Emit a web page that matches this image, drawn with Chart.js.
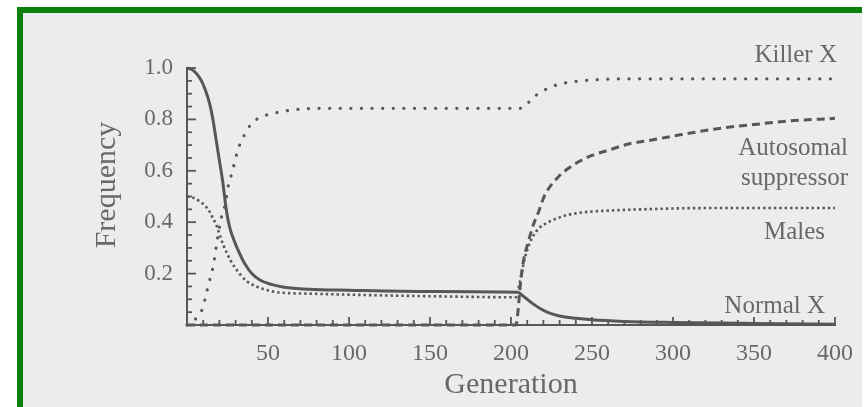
<!DOCTYPE html>
<html><head><meta charset="utf-8">
<script src="https://cdn.jsdelivr.net/npm/chart.js@4/dist/chart.umd.min.js"></script>
<style>html,body{margin:0;padding:0;background:#fff;}canvas{display:block;}</style>
</head><body>
<canvas id="c" width="867" height="407"></canvas>
<script>
// ---- data ----
const normalGen  = [0, 4, 8, 11, 14, 16, 18, 20, 22, 23, 24, 25, 26, 27, 29, 32, 36, 40, 45, 52, 60, 75, 100, 150, 204, 208, 213, 218, 223, 230, 240, 250, 270, 300, 350, 400];
const normalFreq = [1.0, 0.99, 0.96, 0.92, 0.86, 0.80, 0.72, 0.64, 0.56, 0.51, 0.46, 0.42, 0.39, 0.365, 0.33, 0.285, 0.235, 0.20, 0.175, 0.158, 0.147, 0.139, 0.135, 0.13, 0.127, 0.11, 0.085, 0.064, 0.048, 0.035, 0.026, 0.02, 0.014, 0.01, 0.006, 0.003];

const malesGen  = [0, 4, 8, 11, 14, 16, 18, 20, 22.5, 25, 27, 30, 33, 37, 41, 47, 53, 62, 75, 100, 150, 203, 204.5, 206.5, 208.5, 211, 214, 217, 223, 233, 244, 260, 280, 320, 360, 400];
const malesFreq = [0.50, 0.495, 0.48, 0.465, 0.44, 0.415, 0.39, 0.355, 0.31, 0.275, 0.25, 0.22, 0.195, 0.17, 0.155, 0.14, 0.13, 0.124, 0.122, 0.118, 0.112, 0.108, 0.14, 0.20, 0.26, 0.31, 0.35, 0.375, 0.40, 0.425, 0.438, 0.445, 0.45, 0.455, 0.455, 0.455];

const killerGen  = [0, 3, 5.6, 8, 9.7, 11.5, 13.2, 16.3, 18.4, 20.9, 23.6, 25.6, 27.7, 30.8, 32.9, 36, 40, 46, 53.6, 67, 80, 120, 160, 205, 208.6, 212.8, 219, 225, 232, 240, 254, 273, 320, 400];
const killerFreq = [0, 0.01, 0.026, 0.045, 0.066, 0.11, 0.155, 0.233, 0.32, 0.41, 0.47, 0.545, 0.59, 0.668, 0.707, 0.746, 0.785, 0.81, 0.824, 0.838, 0.843, 0.843, 0.843, 0.843, 0.85, 0.88, 0.908, 0.927, 0.94, 0.948, 0.955, 0.958, 0.958, 0.958];

const suppGen  = [0, 100, 203, 204.5, 205.5, 207.6, 210.7, 213.8, 217, 220, 224, 229.3, 235.5, 241.7, 250, 260, 273, 287, 300, 328.6, 350, 370, 400];
const suppFreq = [0, 0, 0, 0.065, 0.14, 0.246, 0.324, 0.39, 0.44, 0.493, 0.538, 0.577, 0.61, 0.635, 0.66, 0.68, 0.705, 0.72, 0.735, 0.765, 0.78, 0.793, 0.804];

const seriesNames = ['Killer X', 'Autosomal suppressor', 'Males', 'Normal X'];
const xTickLabels = ['50', '100', '150', '200', '250', '300', '350', '400'];
const yTickLabels = ['0.2', '0.4', '0.6', '0.8', '1.0'];
const xTitle = 'Generation';
const yTitle = 'Frequency';

// ---- styling ----
const INK = '#686868';
const LINE = '#575757';
const SERIF = '"Liberation Serif", "DejaVu Serif", serif';

function pts(g, f) { return g.map((x, i) => ({x: x, y: f[i]})); }

const paperPlugin = {
  id: 'paper',
  beforeDraw(chart) {
    const ctx = chart.ctx;
    ctx.save();
    ctx.fillStyle = '#ffffff';
    ctx.fillRect(0, 0, chart.width, chart.height);
    ctx.fillStyle = '#ececec';
    ctx.fillRect(23, 13, 839, chart.height - 13);
    ctx.fillStyle = '#0b800b';
    ctx.fillRect(17, 7, 845, 6);
    ctx.fillRect(17, 7, 6, chart.height - 7);
    ctx.restore();
  }
};

const decorPlugin = {
  id: 'decor',
  afterDraw(chart) {
    const ctx = chart.ctx;
    const area = chart.chartArea;
    const xs = chart.scales.x, ys = chart.scales.y;
    ctx.save();
    ctx.strokeStyle = LINE;
    ctx.lineWidth = 1.8;
    // inward tick marks
    xs.ticks.forEach(t => {
      const p = xs.getPixelForValue(t.value);
      const len = t.label ? 8 : 5;
      ctx.beginPath(); ctx.moveTo(p, area.bottom); ctx.lineTo(p, area.bottom - len); ctx.stroke();
    });
    ys.ticks.forEach(t => {
      const p = ys.getPixelForValue(t.value);
      const len = t.label ? 9 : 5;
      ctx.beginPath(); ctx.moveTo(area.left, p); ctx.lineTo(area.left + len, p); ctx.stroke();
    });
    // y axis title
    ctx.fillStyle = INK;
    ctx.font = '30px ' + SERIF;
    ctx.textAlign = 'center';
    ctx.textBaseline = 'middle';
    ctx.translate(107, 185);
    ctx.rotate(-Math.PI / 2);
    ctx.fillText(yTitle, 0, 0);
    ctx.restore();

    // curve labels
    ctx.save();
    ctx.fillStyle = INK;
    ctx.font = '25px ' + SERIF;
    ctx.textAlign = 'right';
    ctx.textBaseline = 'alphabetic';
    ctx.fillText(seriesNames[0], 837, 62);
    const parts = seriesNames[1].split(' ');
    ctx.fillText(parts[0], 848, 155);
    ctx.fillText(parts[1], 848, 185);
    ctx.fillText(seriesNames[2], 825, 239);
    ctx.fillText(seriesNames[3], 825, 313);
    ctx.restore();
  }
};

function labelFor(list, v) {
  const hit = list.find(s => Math.abs(parseFloat(s) - v) < 1e-6);
  return hit === undefined ? '' : hit;
}

new Chart(document.getElementById('c'), {
  type: 'line',
  data: {
    datasets: [
      { label: seriesNames[0], data: pts(killerGen, killerFreq), borderColor: LINE, borderWidth: 3.2,
        borderDash: [0.1, 10.5], borderCapStyle: 'round', pointRadius: 0, cubicInterpolationMode: 'monotone', fill: false, clip: 6 },
      { label: seriesNames[1], data: pts(suppGen, suppFreq), borderColor: LINE, borderWidth: 3,
        borderDash: [8, 5], borderCapStyle: 'butt', pointRadius: 0, cubicInterpolationMode: 'monotone', fill: false, clip: 6 },
      { label: seriesNames[2], data: pts(malesGen, malesFreq), borderColor: LINE, borderWidth: 2.6,
        borderDash: [2.4, 3], borderCapStyle: 'butt', pointRadius: 0, cubicInterpolationMode: 'monotone', fill: false, clip: 6 },
      { label: seriesNames[3], data: pts(normalGen, normalFreq), borderColor: LINE, borderWidth: 3,
        pointRadius: 0, cubicInterpolationMode: 'monotone', fill: false, clip: 6 }
    ]
  },
  options: {
    responsive: false,
    animation: false,
    devicePixelRatio: 1,
    layout: { padding: { top: 68, right: 32, left: 0, bottom: 0 } },
    plugins: { legend: { display: false }, tooltip: { enabled: false } },
    scales: {
      x: {
        type: 'linear', min: 0, max: 400,
        grid: { display: false, drawTicks: false },
        border: { display: true, color: LINE, width: 2 },
        ticks: { stepSize: 10, autoSkip: false, maxRotation: 0, padding: 14, color: INK,
          font: { family: SERIF, size: 24 },
          callback: v => labelFor(xTickLabels, v) },
        title: { display: true, text: xTitle, color: INK, font: { family: SERIF, size: 30 },
          padding: { top: 0, bottom: 4 } },
        afterFit: s => { s.height = 82; }
      },
      y: {
        type: 'linear', min: 0, max: 1.0,
        grid: { display: false, drawTicks: false },
        border: { display: true, color: LINE, width: 2 },
        ticks: { stepSize: 0.05, autoSkip: false, padding: 14, color: INK,
          font: { family: SERIF, size: 23 },
          callback: v => labelFor(yTickLabels, v) },
        afterFit: s => { s.width = 187; }
      }
    }
  },
  plugins: [paperPlugin, decorPlugin]
});
</script>
</body></html>
